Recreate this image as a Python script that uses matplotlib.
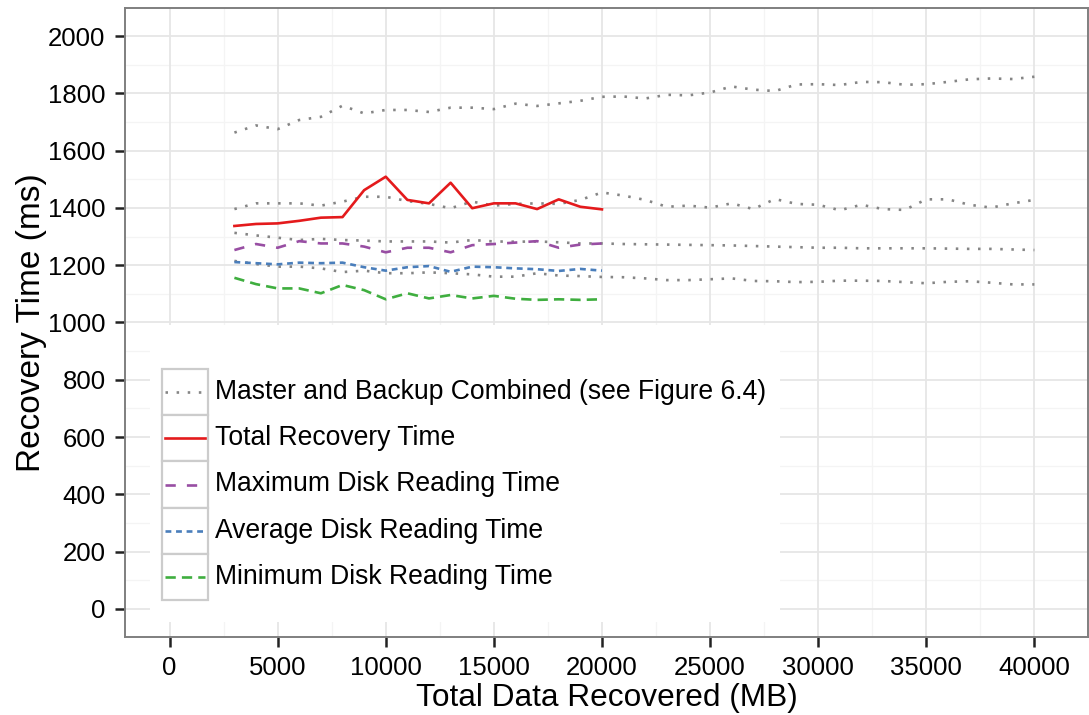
import matplotlib
matplotlib.use("Agg")
import matplotlib.pyplot as plt
from matplotlib.patches import Rectangle
from matplotlib.lines import Line2D

# ---------------- data ----------------
x_new = list(range(3000, 20001, 1000))
total_recovery = [1337, 1344, 1346, 1355, 1366, 1368, 1462, 1509, 1428, 1416,
                  1488, 1399, 1416, 1416, 1396, 1430, 1404, 1395]
max_disk = [1253, 1274, 1261, 1284, 1276, 1276, 1265, 1245, 1261, 1261,
            1245, 1270, 1274, 1279, 1284, 1261, 1272, 1276]
avg_disk = [1211, 1207, 1203, 1209, 1207, 1209, 1193, 1181, 1193, 1197,
            1177, 1195, 1193, 1189, 1186, 1180, 1187, 1181]
min_disk = [1156, 1134, 1119, 1119, 1102, 1131, 1113, 1081, 1102, 1084,
            1096, 1084, 1093, 1083, 1079, 1081, 1079, 1081]

x_comb = list(range(3000, 40001, 1000))
comb_total = [1663, 1688, 1675, 1707, 1718, 1757, 1730, 1742, 1742, 1735,
              1750, 1750, 1745, 1764, 1756, 1765, 1774, 1788, 1789, 1782,
              1795, 1793, 1803, 1824, 1813, 1808, 1831, 1832, 1829, 1840,
              1839, 1830, 1832, 1840, 1849, 1852, 1850, 1858]
comb_max = [1396, 1416, 1416, 1416, 1408, 1422, 1439, 1439, 1424, 1414,
            1399, 1422, 1408, 1414, 1416, 1414, 1428, 1454, 1443, 1428,
            1404, 1408, 1401, 1416, 1396, 1431, 1414, 1411, 1392, 1411,
            1396, 1393, 1430, 1430, 1411, 1401, 1416, 1428]
comb_avg = [1313, 1304, 1296, 1288, 1292, 1288, 1286, 1283, 1283, 1283,
            1279, 1288, 1283, 1282, 1283, 1280, 1276, 1276, 1274, 1273,
            1272, 1271, 1270, 1269, 1267, 1265, 1263, 1261, 1261, 1259,
            1259, 1259, 1259, 1258, 1257, 1257, 1255, 1253]
comb_min = [1215, 1204, 1195, 1195, 1189, 1176, 1181, 1172, 1172, 1175,
            1172, 1168, 1160, 1160, 1172, 1164, 1162, 1159, 1158, 1154,
            1148, 1148, 1151, 1154, 1145, 1144, 1141, 1142, 1146, 1146,
            1145, 1141, 1137, 1142, 1144, 1139, 1133, 1133]

legend_labels = ["Master and Backup Combined (see Figure 6.4)",
                 "Total Recovery Time",
                 "Maximum Disk Reading Time",
                 "Average Disk Reading Time",
                 "Minimum Disk Reading Time"]
x_ticks = list(range(0, 40001, 5000))
y_ticks = list(range(0, 2001, 200))

# ---------------- style ----------------
plt.rcParams['lines.scale_dashes'] = False
REG = "Liberation Sans"

C_GREY = "#858585"
C_RED = "#E41A1C"
C_PURPLE = "#984EA3"
C_BLUE = "#4A7EBB"
C_GREEN = "#3FAE3F"

styles = {
    "grey": dict(color=C_GREY, lw=1.9, dashes=(1.8, 6.2), dash_capstyle="butt"),
    "red": dict(color=C_RED, lw=1.9, linestyle="-"),
    "purple": dict(color=C_PURPLE, lw=1.9, dashes=(7.4, 8.0), dash_capstyle="butt"),
    "blue": dict(color=C_BLUE, lw=1.9, dashes=(4.2, 3.4), dash_capstyle="butt"),
    "green": dict(color=C_GREEN, lw=1.9, dashes=(7.4, 4.4), dash_capstyle="butt"),
}

W, H = 1089, 715
fig = plt.figure(figsize=(W / 100, H / 100), dpi=100)
L, R, T, B = 125, 1088, 8, 637
ax = fig.add_axes([L / W, 1 - B / H, (R - L) / W, (B - T) / H])

ax.set_xlim(-2060, 42480)
ax.set_ylim(-98, 2098)

# grid
for v in range(2500, 42480, 5000):
    ax.axvline(v, color="#f4f4f4", lw=0.9, zorder=0)
for v in range(100, 2100, 200):
    ax.axhline(v, color="#f4f4f4", lw=0.9, zorder=0)
for v in x_ticks:
    ax.axvline(v, color="#e6e6e6", lw=1.3, zorder=0)
for v in y_ticks:
    ax.axhline(v, color="#e6e6e6", lw=1.3, zorder=0)

# series
for ys in (comb_total, comb_max, comb_avg, comb_min):
    ax.plot(x_comb, ys, zorder=2, **styles["grey"])
ax.plot(x_new, total_recovery, zorder=3, **styles["red"])
ax.plot(x_new, max_disk, zorder=3, **styles["purple"])
ax.plot(x_new, avg_disk, zorder=3, **styles["blue"])
ax.plot(x_new, min_disk, zorder=3, **styles["green"])

# axes styling
for s in ax.spines.values():
    s.set_color("#7f7f7f")
    s.set_linewidth(1.4)
    s.set_zorder(10)
ax.set_xticks(x_ticks)
ax.set_yticks(y_ticks)
ax.set_xticklabels([str(v) for v in x_ticks], fontfamily=REG, fontsize=18.5)
ax.set_yticklabels([str(v) for v in y_ticks], fontfamily=REG, fontsize=18.5)
ax.tick_params(axis="both", length=7.5, width=1.8, color="#222222")
ax.tick_params(axis="x", pad=6.5)
ax.tick_params(axis="y", pad=6.5)
ax.set_xlabel("Total Data Recovered (MB)", fontfamily=REG, fontsize=22.8, labelpad=2)
ax.set_ylabel("Recovery Time (ms)", fontfamily=REG, fontsize=24, labelpad=1)

# ---------------- legend (white panel with keyed boxes) ----------------
def fx(px):
    return (px - L) / (R - L)

def fy(py):
    return (B - py) / (B - T)

ax.add_patch(Rectangle((fx(150), fy(622)), fx(780) - fx(150), fy(325) - fy(622),
                       transform=ax.transAxes, facecolor="white", edgecolor="none", zorder=5))
key_top = 369
key_h = 46.2
keys = ["grey", "red", "purple", "blue", "green"]
for i, (k, lab) in enumerate(zip(keys, legend_labels)):
    top = key_top + i * key_h
    ax.add_patch(Rectangle((fx(162), fy(top + key_h)), fx(208) - fx(162), fy(top) - fy(top + key_h),
                           transform=ax.transAxes, facecolor="white", edgecolor="#cccccc",
                           lw=1.6, zorder=6))
    yc = fy(top + key_h / 2)
    ax.add_line(Line2D([fx(165), fx(205)], [yc, yc], transform=ax.transAxes, zorder=7, **styles[k]))
    ax.text(fx(215), yc, lab, transform=ax.transAxes, fontfamily=REG, fontsize=19.1,
            va="center", ha="left", zorder=7)

fig.savefig("out.png", dpi=100)
